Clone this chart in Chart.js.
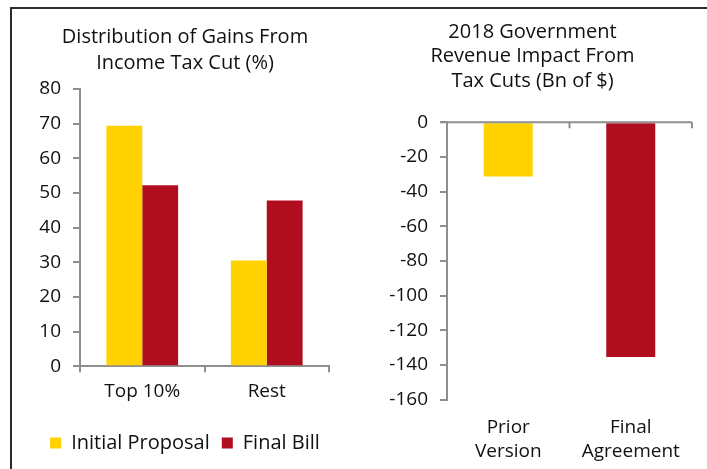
<!DOCTYPE html>
<html>
<head>
<meta charset="utf-8">
<script src="https://cdn.jsdelivr.net/npm/chart.js@4.4.1/dist/chart.umd.min.js"></script>
<style>
  html, body { margin: 0; padding: 0; background: #fff; }
  body { width: 707px; height: 469px; position: relative; overflow: hidden; }
  .frame { position: absolute; left: 10px; top: 7px; width: 720px; height: 480px;
           border-top: 2px solid #2b2b2b; border-left: 2px solid #2b2b2b; }
  .box { position: absolute; top: 0; height: 469px; }
  #gainsBox { left: 12px; width: 346px; }
  #revenueBox { left: 358px; width: 349px; }
</style>
</head>
<body>
<div class="frame"></div>
<div class="box" id="gainsBox"><canvas id="gainsChart"></canvas></div>
<div class="box" id="revenueBox"><canvas id="revenueChart"></canvas></div>
<script>
// left panel: share of income tax cut gains (%)
const gainGroups = ['Top 10%', 'Rest'];
const initialProposal = [69.4, 30.5];
const finalBill = [52.2, 47.8];
const gainTicks = [0, 80, 10];

// right panel: 2018 revenue impact (Bn of $)
const revenueLabels = [['Prior', 'Version'], ['Final', 'Agreement']];
const revenueImpact = [-31.3, -135.5];
const revenueTicks = [-160, 0, 20];

const YELLOW = '#FFD200';
const RED = '#B00D1F';
const AXIS = '#8f8f8f';
const INK = '#111111';

Chart.defaults.font.family = "'Open Sans', sans-serif";
Chart.defaults.font.size = 19;
Chart.defaults.color = INK;
Chart.defaults.animation = false;
Chart.defaults.responsive = true;
Chart.defaults.maintainAspectRatio = false;

// empty right-hand axis, only used to leave room beside the plot
const spacer = (w) => ({
  position: 'right', display: true,
  grid: { display: false }, border: { display: false },
  ticks: { display: false },
  afterFit: (s) => { s.width = w; }
});

new Chart(document.getElementById('gainsChart'), {
  type: 'bar',
  data: {
    labels: gainGroups,
    datasets: [
      { label: 'Initial Proposal', data: initialProposal, backgroundColor: YELLOW },
      { label: 'Final Bill', data: finalBill, backgroundColor: RED }
    ]
  },
  options: {
    categoryPercentage: 0.576,
    barPercentage: 1,
    layout: { padding: { bottom: 6 } },
    plugins: {
      title: {
        display: true,
        text: ['Distribution of Gains From', 'Income Tax Cut (%)'],
        font: { size: 20, weight: 'normal', lineHeight: 1.3 },
        color: INK,
        padding: { top: 24, bottom: 13 }
      },
      legend: {
        position: 'bottom',
        labels: { boxWidth: 11, boxHeight: 11, padding: 12, font: { size: 20 } }
      },
      tooltip: { enabled: false }
    },
    scales: {
      x: {
        grid: { drawOnChartArea: false, color: AXIS, lineWidth: 2, tickLength: 6 },
        border: { color: AXIS, width: 2 },
        ticks: { padding: 8 },
        afterFit: (s) => { s.height += 10; }
      },
      y: {
        min: gainTicks[0], max: gainTicks[1],
        ticks: { stepSize: gainTicks[2], padding: 12 },
        grid: { drawOnChartArea: false, color: AXIS, lineWidth: 2, tickLength: 7 },
        border: { color: AXIS, width: 2 },
        afterFit: (s) => { s.width = 68; }
      },
      pad: spacer(29)
    }
  }
});

// zero line across the top of the revenue panel, with category ticks pointing down
const zeroAxis = {
  id: 'zeroAxis',
  afterDatasetsDraw(chart) {
    const { ctx, chartArea, scales } = chart;
    const y0 = scales.y.getPixelForValue(0);
    const n = chart.data.labels.length;
    const step = (chartArea.right - chartArea.left) / n;
    ctx.save();
    ctx.strokeStyle = AXIS;
    ctx.lineWidth = 2;
    ctx.beginPath();
    ctx.moveTo(chartArea.left - 7, y0);
    ctx.lineTo(chartArea.right, y0);
    for (let i = 1; i <= n; i++) {
      const x = chartArea.left + i * step;
      ctx.moveTo(x, y0);
      ctx.lineTo(x, y0 + 6);
    }
    ctx.stroke();
    ctx.restore();
  }
};

new Chart(document.getElementById('revenueChart'), {
  type: 'bar',
  data: {
    labels: revenueLabels,
    datasets: [{
      label: 'Revenue impact',
      data: revenueImpact,
      backgroundColor: [YELLOW, RED]
    }]
  },
  options: {
    categoryPercentage: 0.4,
    barPercentage: 1,
    layout: { padding: { bottom: 7 } },
    plugins: {
      title: {
        display: true,
        text: ['2018 Government', 'Revenue Impact From', 'Tax Cuts (Bn of $)'],
        font: { size: 20, weight: 'normal', lineHeight: 1.22 },
        color: INK,
        padding: { top: 20, bottom: 29 }
      },
      legend: { display: false },
      tooltip: { enabled: false }
    },
    scales: {
      x: {
        grid: { display: false },
        border: { display: false },
        ticks: { padding: 8, font: { lineHeight: 1.25 } },
        afterFit: (s) => { s.height -= 9; }
      },
      y: {
        min: revenueTicks[0], max: revenueTicks[1],
        ticks: { stepSize: revenueTicks[2], padding: 12 },
        grid: { drawOnChartArea: false, color: AXIS, lineWidth: 2, tickLength: 7 },
        border: { color: AXIS, width: 2 },
        afterFit: (s) => { s.width = 89; }
      },
      pad: spacer(15)
    }
  },
  plugins: [zeroAxis]
});
</script>
</body>
</html>
